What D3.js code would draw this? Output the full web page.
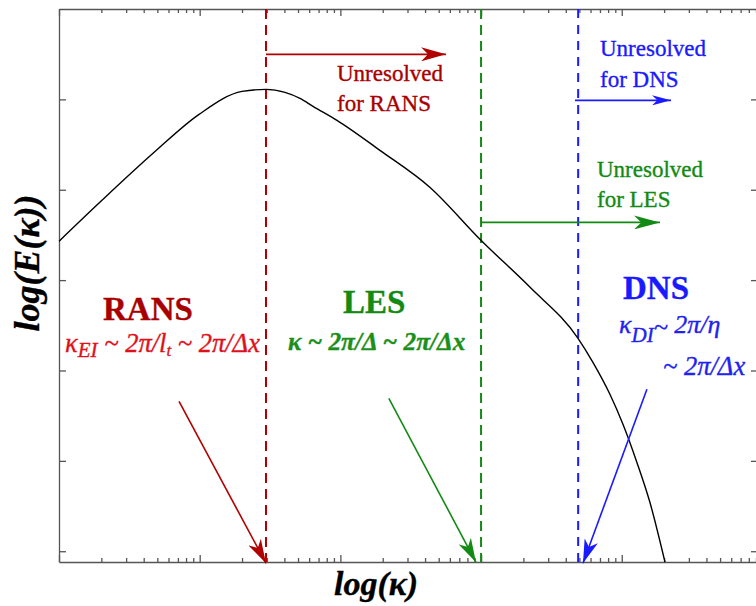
<!DOCTYPE html>
<html>
<head>
<meta charset="utf-8">
<script src="https://cdn.jsdelivr.net/npm/d3@7"></script>
<style>
  body { margin: 0; background: #fff; }
  svg { display: block; }
  .axis path, .axis line { stroke: #555; stroke-width: 1.3; }
  text { font-family: "Liberation Serif", "Times New Roman", serif; stroke-width: 0.35; }
</style>
</head>
<body>
<svg id="chart"></svg>
<script>
'use strict';

// energy spectrum
const kappa  = [1, 2.02, 4.66, 9.9, 20, 29.6, 40.4, 51.6, 63.9, 94.6, 191, 434, 998, 2230, 4890, 6240, 8240, 10200, 12800, 15850, 20300];
const energy = [2690, 7640, 25300, 68300, 122500, 129000, 119500, 102600, 83700, 58600, 27300, 10600, 2760, 832, 227, 123, 54.5, 25.4, 9.66, 3.48, 0.756];

// axis domains and ticks
const kappaDomain = [1, 93000];
const energyDomain = [0.76, 1e6];
const majorX = [1, 10, 100, 1000, 10000];
const minorX = [];
[1, 10, 100, 1000, 10000].forEach(d => { for (let m = 2; m <= 9; m++) minorX.push(d * m); });
const majorY = [1, 10, 100, 1000, 10000, 100000];

// cut-off wavenumbers
const cutoffs = [
  { k: 29.6, color: '#b00000', dash: '10,6' },
  { k: 1000, color: '#138a13', dash: '10,6' },
  { k: 4900, color: '#1a1aff', dash: '9,7' }
];

// arrows: from / to in (kappa, E)
const arrows = [
  { from: [29.6, 315000], to: [564, 315000], color: '#b00000', head: [25, 7] },
  { from: [1014, 4350], to: [18700, 4350], color: '#138a13', head: [26, 7] },
  { from: [4650, 97500], to: [22400, 97500], color: '#1a1aff', head: [19, 5] },
  { from: [7.13, 45.6], to: [29.6, 0.736], color: '#b00000', head: [24, 7] },
  { from: [221, 49.2], to: [920, 0.755], color: '#138a13', head: [24, 7] },
  { from: [15100, 62], to: [5300, 0.736], color: '#1a1aff', head: [24, 7] }
];

const W = 756, H = 606;
const m = { left: 59, right: 758, top: 9, bottom: 562 };

const svg = d3.select('#chart').attr('width', W).attr('height', H);

const x = d3.scaleLog().domain(kappaDomain).range([m.left, m.right]);
const y = d3.scaleLog().domain(energyDomain).range([m.bottom, m.top]);

// frame + ticks
function hAxis(ypos, gen) {
  svg.append('g').attr('class', 'axis').attr('transform', `translate(0,${ypos})`)
      .call(gen(x).tickValues(minorX).tickSize(4).tickSizeOuter(0).tickFormat(''));
  svg.append('g').attr('class', 'axis').attr('transform', `translate(0,${ypos})`)
      .call(gen(x).tickValues(majorX).tickSize(7).tickSizeOuter(0).tickFormat(''))
    .select('.domain').remove();
}
hAxis(m.bottom, d3.axisTop);
hAxis(m.top, d3.axisBottom);

svg.append('g').attr('class', 'axis').attr('transform', `translate(${m.left},0)`)
    .call(d3.axisRight(y).tickValues(majorY).tickSize(7).tickSizeOuter(0).tickFormat(''));
svg.append('g').attr('class', 'axis').attr('transform', `translate(${m.right},0)`)
    .call(d3.axisLeft(y).tickValues(majorY).tickSize(7).tickSizeOuter(0).tickFormat(''));

// dashed cut-offs
svg.selectAll('.cut').data(cutoffs).enter().append('line')
    .attr('class', 'cut')
    .attr('x1', d => x(d.k)).attr('x2', d => x(d.k))
    .attr('y1', m.top).attr('y2', m.bottom)
    .attr('stroke', d => d.color).attr('stroke-width', 2)
    .attr('stroke-dasharray', d => d.dash);

// spectrum
const line = d3.line()
    .x((d, i) => x(kappa[i]))
    .y(d => y(d))
    .curve(d3.curveMonotoneX);

svg.append('path')
    .datum(energy)
    .attr('d', line)
    .attr('fill', 'none')
    .attr('stroke', '#000')
    .attr('stroke-width', 1.4);

// arrows
const defs = svg.append('defs');
arrows.forEach((a, i) => {
  const [L, w] = a.head;
  defs.append('marker')
      .attr('id', 'ah' + i)
      .attr('markerUnits', 'userSpaceOnUse')
      .attr('viewBox', `${-L} ${-w} ${L} ${2 * w}`)
      .attr('refX', 0).attr('refY', 0)
      .attr('markerWidth', L).attr('markerHeight', 2 * w)
      .attr('orient', 'auto')
    .append('path')
      .attr('d', `M0,0L${-L},${-w}L${-L * 0.72},0L${-L},${w}Z`)
      .attr('fill', a.color);
  svg.append('line')
      .attr('x1', x(a.from[0])).attr('y1', y(a.from[1]))
      .attr('x2', x(a.to[0])).attr('y2', y(a.to[1]))
      .attr('stroke', a.color).attr('stroke-width', 1.6)
      .attr('marker-end', `url(#ah${i})`);
});

// labels
function label(txt, px, py, color, size, opts = {}) {
  return svg.append('text')
      .attr('x', px).attr('y', py)
      .attr('fill', color)
      .attr('stroke', color)
      .attr('font-size', size)
      .attr('font-weight', opts.bold ? 'bold' : 'normal')
      .attr('font-style', opts.italic ? 'italic' : 'normal')
      .text(txt);
}

label('Unresolved', 337, 81, '#a80000', 23);
label('for RANS', 337, 111, '#a80000', 23);
label('Unresolved', 600, 56, '#1a1aff', 23);
label('for DNS', 600, 87, '#1a1aff', 23);
label('Unresolved', 597, 177, '#138a13', 23);
label('for LES', 597, 207, '#138a13', 23);

label('RANS', 103, 320, '#a80000', 33, { bold: true });
label('LES', 343, 313, '#138a13', 33, { bold: true });
label('DNS', 623, 299, '#1a1aff', 33, { bold: true });

// RANS formula
const fr = label('', 65, 352, '#e0101a', 26.5, { italic: true });
fr.append('tspan').text('κ');
fr.append('tspan').attr('dy', 5).attr('font-size', 21).text('EI');
fr.append('tspan').attr('dy', -5).text(' ~ 2π/l');
fr.append('tspan').attr('dy', 4).attr('font-size', 17).text('t');
fr.append('tspan').attr('dy', -4).text(' ~ 2π/Δx');

// LES formula
label('κ ~ 2π/Δ ~ 2π/Δx', 288, 350, '#1a8f1a', 25.3, { bold: true, italic: true });

// DNS formula
const fd = label('', 619, 333, '#2222ee', 26, { italic: true });
fd.append('tspan').text('κ');
fd.append('tspan').attr('dy', 9).attr('font-size', 21).text('DI');
fd.append('tspan').attr('dy', -7).text('~');
fd.append('tspan').attr('dy', -2).text(' 2π/η');
label('~ 2π/Δx', 663, 375, '#2222ee', 26.5, { italic: true });

// axis titles
label('log(κ)', 376, 595, '#000', 34, { bold: true, italic: true })
    .attr('text-anchor', 'middle');
label('log(E(κ))', 0, 0, '#000', 36, { bold: true, italic: true })
    .attr('text-anchor', 'middle')
    .attr('transform', 'translate(39,263) rotate(-90)');
</script>
</body>
</html>
